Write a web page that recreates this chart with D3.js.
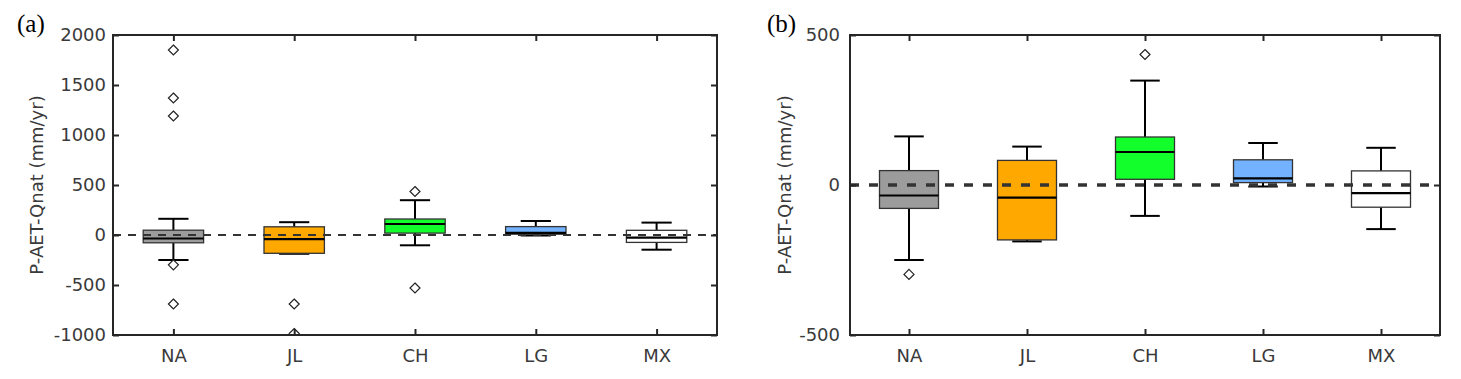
<!DOCTYPE html>
<html>
<head>
<meta charset="utf-8">
<script src="https://cdn.jsdelivr.net/npm/d3@7"></script>
<style>
  body { margin: 0; background: #fff; }
  svg text { font-family: "DejaVu Sans", sans-serif; fill: #3a3a3a; }
  svg text.panel { font-family: "Liberation Serif", "Times New Roman", serif; fill: #000; }
</style>
</head>
<body>
<div id="chart"></div>
<script>
/***** data (same stations in both panels, panel b is a zoom on y) *****/
var categories   = ["NA", "JL", "CH", "LG", "MX"];
var whiskerLow   = [-250, -188, -103, -5, -147];
var q1           = [-78, -183, 19, 8, -74];
var medians      = [-35, -42, 110, 22, -27];
var q3           = [48, 82, 160, 84, 47];
var whiskerHigh  = [162, 128, 348, 140, 124];
var outliers     = [[1850, 1370, 1190, -298, -690], [-690, -985], [435, -530], [], []];

var ticksA = [-1000, -500, 0, 500, 1000, 1500, 2000];
var ticksB = [-500, 0, 500];

//box fill colours
var colorMap = {"NA": "#9c9c9c", "JL": "#ffa800", "CH": "#12ff2c", "LG": "#72b2ff", "MX": "#ffffff"};

var stats = categories.map(function(c, i) {
  return {name: c, lo: whiskerLow[i], q1: q1[i], med: medians[i], q3: q3[i], hi: whiskerHigh[i], out: outliers[i]};
});

var svg = d3.select("#chart").append("svg")
  .attr("width", 1461)
  .attr("height", 379);

var axisColor = "#262626";

function drawPanel(p) {
  var g = svg.append("g");

  var x = d3.scaleLinear().domain([0.5, 5.5]).range([p.left, p.right]);
  var y = d3.scaleLinear().domain(p.domain).range([p.bottom, p.top]);
  var unit = x(1) - x(0);

  var clipId = "clip-" + p.label;
  svg.append("clipPath").attr("id", clipId)
    .append("rect")
    .attr("x", p.left).attr("y", p.top)
    .attr("width", p.right - p.left).attr("height", p.bottom - p.top);

  var plot = g.append("g").attr("clip-path", "url(#" + clipId + ")");

  var box = plot.selectAll("g.box")
    .data(stats)
    .enter().append("g")
    .attr("class", "box")
    .attr("transform", function(d, i) { return "translate(" + x(i + 1) + ",0)"; });

  //whisker stems
  box.append("line")
    .attr("x1", 0).attr("x2", 0)
    .attr("y1", function(d) { return y(d.hi); })
    .attr("y2", function(d) { return y(d.q3); })
    .attr("stroke", "#000").attr("stroke-width", 2);
  box.append("line")
    .attr("x1", 0).attr("x2", 0)
    .attr("y1", function(d) { return y(d.q1); })
    .attr("y2", function(d) { return y(d.lo); })
    .attr("stroke", "#000").attr("stroke-width", 2);

  //caps
  [function(d) { return y(d.hi); }, function(d) { return y(d.lo); }].forEach(function(fy) {
    box.append("line")
      .attr("x1", -unit * 0.125).attr("x2", unit * 0.125)
      .attr("y1", fy).attr("y2", fy)
      .attr("stroke", "#000").attr("stroke-width", 2);
  });

  //boxes
  box.append("rect")
    .attr("x", -unit * 0.25)
    .attr("width", unit * 0.5)
    .attr("y", function(d) { return y(d.q3); })
    .attr("height", function(d) { return y(d.q1) - y(d.q3); })
    .attr("fill", function(d) { return colorMap[d.name]; })
    .attr("stroke", "#333").attr("stroke-width", 1.3);

  //zero line, drawn over the boxes
  plot.append("line")
    .attr("x1", p.left).attr("x2", p.right)
    .attr("y1", y(0)).attr("y2", y(0))
    .attr("stroke", "#333")
    .attr("stroke-width", p.dashWidth)
    .attr("stroke-dasharray", p.dash);

  //medians
  box.append("line")
    .attr("x1", -unit * 0.25).attr("x2", unit * 0.25)
    .attr("y1", function(d) { return y(d.med); })
    .attr("y2", function(d) { return y(d.med); })
    .attr("stroke", "#000").attr("stroke-width", 2.2);

  //outliers as open diamonds
  box.selectAll("path.out")
    .data(function(d) { return d.out; })
    .enter().append("path")
    .attr("class", "out")
    .attr("d", "M0,-5L5,0L0,5L-5,0Z")
    .attr("transform", function(v) { return "translate(0," + y(v) + ")"; })
    .attr("fill", "#fff")
    .attr("stroke", "#222").attr("stroke-width", 1.2);

  //axes: left with labels, right/top inward ticks only
  var yAxis = d3.axisLeft(y).tickValues(p.ticks).tickSizeInner(-6).tickSizeOuter(0).tickPadding(p.tickPad)
    .tickFormat(function(d) { return String(d); });
  var yAxisR = d3.axisRight(y).tickValues(p.ticks).tickSizeInner(-6).tickSizeOuter(0).tickFormat("");
  var xAxis = d3.axisBottom(x).tickValues([1, 2, 3, 4, 5]).tickSizeInner(-6).tickSizeOuter(0).tickPadding(14)
    .tickFormat(function(d) { return categories[d - 1]; });
  var xAxisT = d3.axisTop(x).tickValues([1, 2, 3, 4, 5]).tickSizeInner(-6).tickSizeOuter(0).tickFormat("");

  var axes = [
    g.append("g").attr("transform", "translate(" + p.left + ",0)").call(yAxis),
    g.append("g").attr("transform", "translate(" + p.right + ",0)").call(yAxisR),
    g.append("g").attr("transform", "translate(0," + p.bottom + ")").call(xAxis),
    g.append("g").attr("transform", "translate(0," + p.top + ")").call(xAxisT)
  ];
  axes.forEach(function(a) {
    a.select(".domain").remove();
    a.selectAll(".tick line").attr("stroke", axisColor).attr("stroke-width", 2);
    a.selectAll(".tick text").attr("fill", "#3a3a3a").style("font-size", "18px").attr("font-family", null);
  });

  //frame
  g.append("rect")
    .attr("x", p.left).attr("y", p.top)
    .attr("width", p.right - p.left).attr("height", p.bottom - p.top)
    .attr("fill", "none")
    .attr("stroke", axisColor).attr("stroke-width", 2);

  //y label
  g.append("text")
    .attr("transform", "translate(" + p.ylabX + "," + ((p.top + p.bottom) / 2) + ") rotate(-90)")
    .attr("text-anchor", "middle")
    .style("font-size", "18px")
    .text("P-AET-Qnat (mm/yr)");

  //panel letter
  g.append("text")
    .attr("class", "panel")
    .attr("x", p.letterX).attr("y", 32)
    .style("font-size", "25px")
    .text("(" + p.label + ")");
}

drawPanel({label: "a", left: 113, right: 717, top: 35, bottom: 335, domain: [-1000, 2000],
  ticks: ticksA, tickPad: 7, dash: "8,7", dashWidth: 2, ylabX: 43, letterX: 17});

drawPanel({label: "b", left: 850, right: 1440, top: 35, bottom: 335, domain: [-500, 500],
  ticks: ticksB, tickPad: 10, dash: "9,10", dashWidth: 3.5, ylabX: 791, letterX: 767});
</script>
</body>
</html>
